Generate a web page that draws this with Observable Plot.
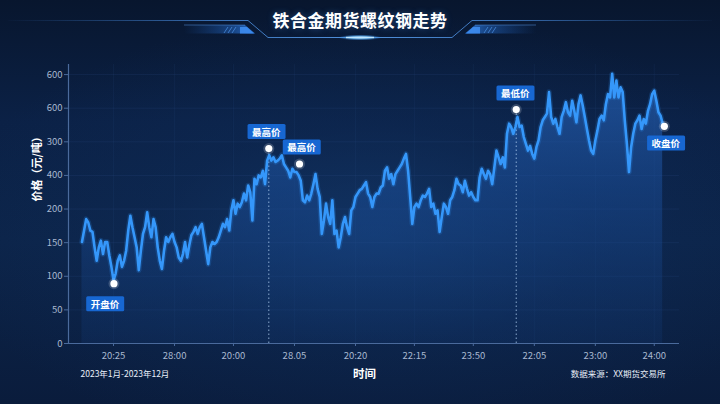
<!DOCTYPE html>
<html>
<head>
<meta charset="utf-8">
<script src="https://cdn.jsdelivr.net/npm/d3@7"></script>
<script src="https://cdn.jsdelivr.net/npm/@observablehq/plot@0.6"></script>
<style>
html,body{margin:0;padding:0;width:720px;height:404px;overflow:hidden;}
body{
  background:
    radial-gradient(ellipse 60% 55% at 52% 58%, rgba(22,64,120,0.55) 0%, rgba(16,48,96,0.3) 50%, rgba(0,0,0,0) 100%),
    linear-gradient(180deg, #08162e 0%, #0b2146 30%, #0c2449 60%, #0a1c3c 100%);
  font-family:"Noto Sans CJK SC","Noto Sans",sans-serif;
}
#header{position:relative;width:720px;height:50px;}
#header svg{position:absolute;left:0;top:0;}
#title{position:absolute;left:0;top:8px;width:720px;text-align:center;font-size:17px;font-weight:bold;color:#ffffff;line-height:24px;letter-spacing:0.5px;text-shadow:0 0 6px rgba(80,160,255,0.35);}
#chart{width:720px;height:354px;}
</style>
</head>
<body>
<div id="header">
  <svg width="720" height="50" viewBox="0 0 720 50">
    <defs>
      <linearGradient id="frameGrad" gradientUnits="userSpaceOnUse" x1="0" y1="0" x2="720" y2="0">
        <stop offset="0" stop-color="#3a78c8" stop-opacity="0"/>
        <stop offset="0.3" stop-color="#4a8ee0" stop-opacity="0.75"/>
        <stop offset="0.5" stop-color="#5aa0f0" stop-opacity="0.9"/>
        <stop offset="0.7" stop-color="#4a8ee0" stop-opacity="0.75"/>
        <stop offset="1" stop-color="#3a78c8" stop-opacity="0"/>
      </linearGradient>
      <linearGradient id="barL" x1="0" x2="1" y1="0" y2="0">
        <stop offset="0" stop-color="#1d5cb4" stop-opacity="0"/>
        <stop offset="0.7" stop-color="#2468c4" stop-opacity="0.55"/>
        <stop offset="1" stop-color="#2f7be0" stop-opacity="0.9"/>
      </linearGradient>
      <linearGradient id="barR" x1="1" x2="0" y1="0" y2="0">
        <stop offset="0" stop-color="#1d5cb4" stop-opacity="0"/>
        <stop offset="0.7" stop-color="#2468c4" stop-opacity="0.55"/>
        <stop offset="1" stop-color="#2f7be0" stop-opacity="0.9"/>
      </linearGradient>
      <radialGradient id="glow">
        <stop offset="0" stop-color="#e8f6ff" stop-opacity="1"/>
        <stop offset="0.45" stop-color="#6cc0ff" stop-opacity="0.8"/>
        <stop offset="1" stop-color="#2a7fe0" stop-opacity="0"/>
      </radialGradient>
    </defs>
    <path d="M8 20.5 H248 L268 37.5 H452 L472 20.5 H712" fill="none" stroke="url(#frameGrad)" stroke-width="1"/>
    <polygon points="184,25 245,25 255,33.5 184,33.5" fill="url(#barL)"/>
    <line x1="184" y1="25" x2="245" y2="25" stroke="#5a9ae8" stroke-opacity="0.6" stroke-width="0.8"/>
    <polygon points="240,27 247,27 254,33.5 240,33.5" fill="#3d8cf0" opacity="0.9"/>
    <path d="M224 33 L228 27 M228 33 L232 27 M232 33 L236 27" stroke="#4f95ea" stroke-width="1" opacity="0.7"/>
    <polygon points="475,25 536,25 536,33.5 465,33.5" fill="url(#barR)"/>
    <line x1="475" y1="25" x2="536" y2="25" stroke="#5a9ae8" stroke-opacity="0.6" stroke-width="0.8"/>
    <polygon points="473,27 480,27 480,33.5 466,33.5" fill="#3d8cf0" opacity="0.9"/>
    <path d="M484 33 L488 27 M488 33 L492 27 M492 33 L496 27" stroke="#4f95ea" stroke-width="1" opacity="0.7"/>
    <ellipse cx="360" cy="37.5" rx="22" ry="3" fill="url(#glow)"/>
    <line x1="346" y1="37.5" x2="374" y2="37.5" stroke="#bfe6ff" stroke-width="1.4"/>
  </svg>
  <div id="title">铁合金期货螺纹钢走势</div>
</div>
<div id="chart"></div>
<script>
// ---------- data ----------
const xLabels = ["20:25","28:00","20:00","28.05","20:20","22:15","23:50","22:05","23:00","24:00"];
const xTicks  = [15, 44, 72, 101, 130, 158, 186, 215, 244, 272];
const yLabels = ["0","50","100","150","200","400","300","600","600"];
const yTicks  = [0, 50, 100, 150, 200, 250, 300, 350, 400];

const prices = [
  151,168,185,180,168,166,143,123,143,153,
  133,151,151,131,114,94,104,123,131,114,
  123,138,168,190,173,158,143,109,138,163,
  173,195,173,158,185,173,143,123,111,138,
  158,151,158,163,151,143,128,123,133,151,
  128,146,161,166,173,163,173,178,158,138,
  118,143,151,148,151,158,168,178,173,185,
  168,198,213,193,208,203,210,223,213,235,
  225,183,245,237,250,247,257,237,272,280,
  272,277,270,272,275,280,267,262,257,247,
  260,255,255,250,242,213,210,220,213,223,
  237,252,230,218,163,183,208,188,178,213,
  163,168,143,158,178,188,173,163,198,203,
  218,223,228,230,235,240,223,218,203,218,
  223,223,232,235,257,262,245,252,237,252,
  257,262,267,275,282,257,218,178,203,208,
  203,213,220,218,223,230,203,208,193,198,
  166,188,208,203,193,213,218,228,245,237,
  235,225,242,230,220,225,218,213,213,247,
  260,252,245,257,252,237,262,287,277,267,
  277,262,312,327,322,312,322,337,322,324,
  307,297,287,294,282,275,292,302,322,332,
  337,342,374,337,327,334,322,312,337,346,
  359,344,339,361,346,329,356,369,354,337,
  319,302,287,282,302,317,334,339,332,356,
  371,366,401,366,391,366,381,374,332,297,
  255,292,312,327,332,339,319,334,327,346,
  356,371,376,361,344,339,327
];

const keyNames = ["开盘价","最高价","最高价","最低价","收盘价"];
const keyIdx   = [15.2, 88.8, 103.4, 206.4, 276.8];
const keyVals  = [89, 290, 267, 348, 323];

const yTitle = "价格（元/吨）";
const xTitle = "时间";
const periodNote = "2023年1月-2023年12月";
const sourceNote = "数据来源：XX期货交易所";

// ---------- build ----------
const data = prices.map((v, i) => ({i, v}));
const keys = keyNames.map((name, j) => ({name, i: keyIdx[j], v: keyVals[j]}));
const ruleKeys = [keys[1], keys[3]];
const calloutOffset = [[-9, 21], [-2.5, -16], [2, -16], [-1, -15.5], [1.5, 17.5]];

const ns = "http://www.w3.org/2000/svg";
const defsMark = () => {
  const d = document.createElementNS(ns, "defs");
  d.innerHTML = `<linearGradient id="areaGrad" x1="0" y1="0" x2="0" y2="1">
      <stop offset="0" stop-color="#2a6cc8" stop-opacity="0.62"/>
      <stop offset="0.45" stop-color="#1c52a2" stop-opacity="0.45"/>
      <stop offset="1" stop-color="#143f80" stop-opacity="0.2"/>
    </linearGradient>`;
  return d;
};

const xDomain = [-6.4, 284];
const yDomain = [0, 415];
const fontFam = '"Noto Sans CJK SC","Noto Sans",sans-serif';

const tickColor = "#a9b8d0";
const axisColor = "#4a6a9c";

const chart = Plot.plot({
  width: 720,
  height: 354,
  marginLeft: 68,
  marginRight: 41,
  marginTop: 14,
  marginBottom: 61,
  x: {domain: xDomain, axis: null},
  y: {domain: yDomain, axis: null},
  style: {background: "transparent", fontFamily: fontFam, overflow: "visible"},
  marks: [
    defsMark,
    Plot.ruleY(yTicks.slice(1), {stroke: "#3d64a0", strokeOpacity: 0.14}),
    Plot.ruleX(xTicks, {stroke: "#3d64a0", strokeOpacity: 0.1}),
    Plot.areaY(data, {x: "i", y: "v", fill: "url(#areaGrad)"}),
    Plot.ruleX(ruleKeys, {x: "i", y1: 0, y2: "v", stroke: "#b4d2f4", strokeDasharray: "1.5,2.5", strokeOpacity: 0.75, strokeWidth: 1}),
    Plot.lineY(data, {x: "i", y: "v", stroke: "#2f8ff5", strokeWidth: 5.5, strokeOpacity: 0.2, strokeLinejoin: "round"}),
    Plot.lineY(data, {x: "i", y: "v", stroke: "#3597fa", strokeWidth: 2.6, strokeLinejoin: "round"}),
    Plot.ruleY([0], {stroke: axisColor, strokeWidth: 1.2}),
    Plot.ruleX([xDomain[0]], {stroke: axisColor, strokeWidth: 1.2}),
    Plot.axisX(xTicks, {
      tickFormat: d => xLabels[xTicks.indexOf(d)],
      tickSize: 3, tickPadding: 6, stroke: axisColor, fill: tickColor,
      fontSize: 9.5, label: null
    }),
    Plot.axisY(yTicks, {
      tickFormat: d => yLabels[yTicks.indexOf(d)],
      tickSize: 4, tickPadding: 2, stroke: axisColor, fill: tickColor,
      fontSize: 9.5, label: null
    }),
    Plot.dot(keys, {x: "i", y: "v", r: 5.5, fill: "#ffffff", fillOpacity: 0.18}),
    Plot.dot(keys, {x: "i", y: "v", r: 3.6, fill: "#ffffff"}),
    ...keys.map((k, j) => Plot.text([k], {
      x: "i", y: "v", text: "name",
      dx: calloutOffset[j][0], dy: calloutOffset[j][1],
      fill: "#ffffff", fontSize: 9.5, fontWeight: "bold"
    })),
    Plot.text([yTitle], {frameAnchor: "left", rotate: -90, dx: -31, dy: -2.5, fill: "#ffffff", fontSize: 11, fontWeight: "bold"}),
    Plot.text([xTitle], {frameAnchor: "bottom", dx: -9.5, dy: 34, fill: "#ffffff", fontSize: 11.5, fontWeight: "bold"}),
    Plot.text([periodNote], {frameAnchor: "bottom-left", textAnchor: "start", dx: 12, dy: 33, fill: "#e8eef8", fontSize: 8.5}),
    Plot.text([sourceNote], {frameAnchor: "bottom-right", textAnchor: "end", dx: -14, dy: 33, fill: "#e8eef8", fontSize: 8.5})
  ]
});

document.getElementById("chart").appendChild(chart);

// label boxes behind the callout texts
const svgEl = chart.tagName.toLowerCase() === "svg" ? chart : chart.querySelector("svg");
const texts = Array.from(svgEl.querySelectorAll("text")).filter(t => keyNames.includes(t.textContent.trim()));
for (const t of texts) {
  const b = t.getBBox();
  const w = b.width + 9, h = 15;
  const r = document.createElementNS(ns, "rect");
  r.setAttribute("x", b.x + b.width / 2 - w / 2);
  r.setAttribute("y", b.y + b.height / 2 - h / 2);
  r.setAttribute("width", w);
  r.setAttribute("height", h);
  r.setAttribute("rx", 1.5);
  r.setAttribute("fill", "#1767d2");
  const tr = t.getAttribute("transform");
  if (tr) r.setAttribute("transform", tr);
  t.parentNode.insertBefore(r, t);
}
</script>
</body>
</html>
